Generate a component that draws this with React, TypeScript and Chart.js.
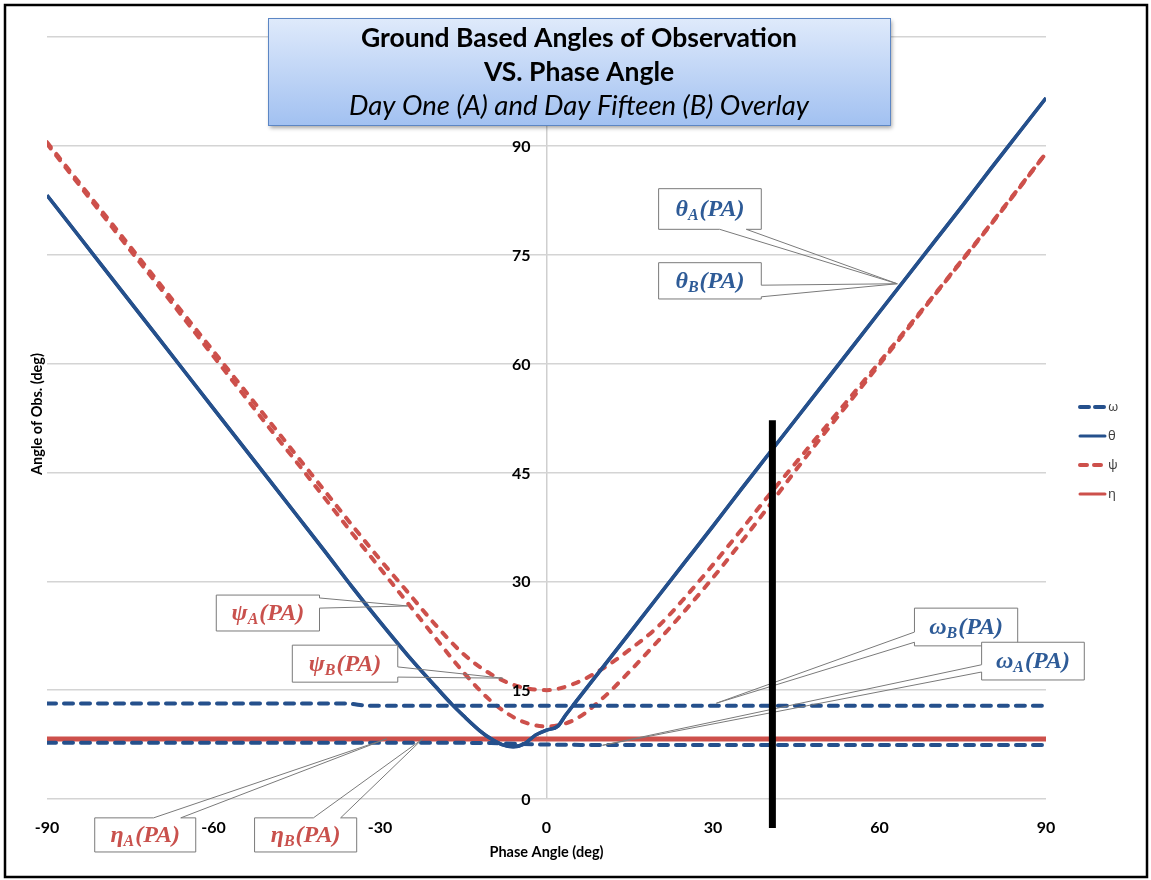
import React, { useEffect, useRef } from "react";
import { Chart, registerables } from "chart.js";

Chart.register(...registerables);

// ---------- data ----------
const thetaX = [-90, -85, -80, -75, -70, -65, -60, -55, -50, -45, -40, -35, -30, -25, -20, -17, -15, -12, -10, -8, -6, -4, -2, 0, 2, 3.5, 5, 10, 15, 20, 25, 30, 35, 40, 45, 50, 55, 60, 65, 70, 75, 80, 85, 90];
const thetaA = [83.2, 78.3, 73.4, 68.5, 63.6, 58.7, 53.8, 48.9, 44.0, 39.1, 34.2, 29.2, 24.4, 19.8, 15.5, 13.0, 11.5, 9.4, 8.3, 7.5, 7.2, 7.6, 8.8, 9.5, 10.0, 11.6, 13.1, 18.0, 22.9, 27.8, 32.7, 37.6, 42.6, 47.5, 52.4, 57.3, 62.2, 67.1, 72.0, 76.9, 81.8, 86.8, 91.7, 96.6];
const thetaB = [83.2, 78.3, 73.4, 68.5, 63.6, 58.7, 53.8, 48.9, 44.0, 39.1, 34.2, 29.2, 24.4, 19.8, 15.5, 13.0, 11.5, 9.4, 8.3, 7.5, 7.2, 7.6, 8.8, 9.5, 10.0, 11.6, 13.1, 18.0, 22.9, 27.8, 32.7, 37.6, 42.6, 47.5, 52.4, 57.3, 62.2, 67.1, 72.0, 76.9, 81.8, 86.8, 91.7, 96.6];

const psiX = [-90, -85, -80, -75, -70, -65, -60, -55, -50, -45, -40, -35, -30, -25, -20, -15, -10, -5, 0, 5, 10, 15, 20, 25, 30, 35, 40, 45, 50, 55, 60, 65, 70, 75, 80, 85, 90];
const psiA = [90.3, 85.4, 80.5, 75.6, 70.8, 65.9, 61.0, 56.1, 51.2, 46.4, 41.5, 36.6, 31.8, 27.0, 22.2, 17.5, 13.5, 10.9, 10.0, 10.9, 13.8, 17.6, 21.7, 26.0, 30.5, 35.3, 40.3, 45.4, 50.3, 55.1, 59.9, 64.7, 69.5, 74.3, 79.1, 84.0, 89.0];
const psiB = [90.5, 85.7, 80.9, 76.1, 71.3, 66.5, 61.7, 56.9, 52.1, 47.3, 42.5, 37.7, 33.0, 28.5, 24.0, 20.0, 17.2, 15.5, 15.0, 15.9, 17.9, 20.6, 23.7, 27.8, 32.3, 37.0, 41.8, 46.4, 51.0, 55.6, 60.2, 64.9, 69.6, 74.4, 79.2, 84.1, 89.0];

const omegaX = [-90, -60, -40, -36, -32, -20, -10, 0, 10, 30, 60, 90];
const omegaA = [7.75, 7.75, 7.75, 7.75, 7.75, 7.75, 7.7, 7.5, 7.45, 7.45, 7.45, 7.45];
const omegaB = [13.15, 13.15, 13.15, 13.15, 12.85, 12.85, 12.85, 12.85, 12.85, 12.85, 12.85, 12.85];

const etaX = [-90, 90];
const etaA = [8.35, 8.35];
const etaB = [8.2, 8.2];

const xTicks = [-90, -60, -30, 0, 30, 60, 90];
const yTicks = [0, 15, 30, 45, 60, 75, 90];

const legendLabels = ["ω", "θ", "ψ", "η"];

const titleLines = ["Ground Based Angles of Observation", "VS. Phase Angle", "Day One (A) and Day Fifteen (B) Overlay"];
const xAxisTitle = "Phase Angle (deg)";
const yAxisTitle = "Angle of Obs. (deg)";

// vertical marker (phase angle, from / to angle)
const markerX = 40.7;
const markerTop = 52.2;
const markerBottom = -4.0;

// callouts: symbol, subscript, colour key, box (data coords), wedge side, wedge base (data), tip (data)
const callouts = [
  { sym: "θ", sub: "A", c: "blue", x1: 20.2, x2: 38.7, yTop: 84.1, yBot: 78.5, side: "bottom", b1: 31.2, b2: 36.0, tx: 63.2, ty: 71.0 },
  { sym: "θ", sub: "B", c: "blue", x1: 20.2, x2: 38.7, yTop: 73.9, yBot: 68.9, side: "right", b1: 70.8, b2: 69.2, tx: 63.2, ty: 71.0 },
  { sym: "ψ", sub: "A", c: "red", x1: -59.5, x2: -40.9, yTop: 28.1, yBot: 23.15, side: "right", b1: 27.7, b2: 26.3, tx: -25.0, ty: 26.6 },
  { sym: "ψ", sub: "B", c: "red", x1: -45.8, x2: -26.8, yTop: 21.2, yBot: 16.1, side: "right", b1: 18.2, b2: 16.8, tx: -7.9, ty: 16.65 },
  { sym: "ω", sub: "B", c: "blue", x1: 66.3, x2: 84.9, yTop: 26.3, yBot: 21.1, side: "left", b1: 23.0, b2: 21.6, tx: 30.6, ty: 13.2 },
  { sym: "ω", sub: "A", c: "blue", x1: 78.4, x2: 96.9, yTop: 21.6, yBot: 16.4, side: "left", b1: 18.5, b2: 17.5, tx: 10.1, ty: 7.4 },
  { sym: "η", sub: "A", c: "red", x1: -81.4, x2: -63.2, yTop: -2.6, yBot: -7.3, side: "top", b1: -70.8, b2: -65.9, tx: -28.8, ty: 8.3 },
  { sym: "η", sub: "B", c: "red", x1: -52.6, x2: -34.2, yTop: -2.6, yBot: -7.3, side: "top", b1: -42.0, b2: -37.1, tx: -22.3, ty: 8.3 },
];

const BLUE = "#25508C";
const RED = "#CD504B";
const FONT = "Lato, 'Open Sans', sans-serif";

const pts = (xs: number[], ys: number[]) => xs.map((x, i) => ({ x, y: ys[i] }));

export default function App() {
  const ref = useRef<HTMLCanvasElement>(null);

  useEffect(() => {
    const canvas = ref.current;
    if (!canvas) return;

    const overlay = {
      id: "overlay",
      afterDatasetsDraw(chart: any) {
        const ctx = chart.ctx as CanvasRenderingContext2D;
        const xs = chart.scales.x;
        const ys = chart.scales.y;
        const px = (v: number) => xs.getPixelForValue(v);
        const py = (v: number) => ys.getPixelForValue(v);
        const x0 = px(0);

        ctx.save();
        // y tick labels next to the x=0 axis
        ctx.font = `bold 16px ${FONT}`;
        ctx.fillStyle = "#000";
        ctx.textAlign = "right";
        ctx.textBaseline = "middle";
        yTicks.forEach((t) => ctx.fillText(String(t), x0 - 16, py(t) + 1));

        // callouts
        callouts.forEach((co) => {
          const X1 = px(co.x1), X2 = px(co.x2), Y1 = py(co.yTop), Y2 = py(co.yBot);
          const TX = px(co.tx), TY = py(co.ty);
          let B1: number, B2: number;
          if (co.side === "top" || co.side === "bottom") { B1 = px(co.b1); B2 = px(co.b2); }
          else { B1 = py(co.b1); B2 = py(co.b2); }
          ctx.fillStyle = "#fff";
          ctx.fillRect(X1, Y1, X2 - X1, Y2 - Y1);
          ctx.beginPath();
          ctx.moveTo(X1, Y1);
          if (co.side === "top") { ctx.lineTo(B1, Y1); ctx.lineTo(TX, TY); ctx.lineTo(B2, Y1); }
          ctx.lineTo(X2, Y1);
          if (co.side === "right") { ctx.lineTo(X2, B1); ctx.lineTo(TX, TY); ctx.lineTo(X2, B2); }
          ctx.lineTo(X2, Y2);
          if (co.side === "bottom") { ctx.lineTo(B2, Y2); ctx.lineTo(TX, TY); ctx.lineTo(B1, Y2); }
          ctx.lineTo(X1, Y2);
          if (co.side === "left") { ctx.lineTo(X1, B2); ctx.lineTo(TX, TY); ctx.lineTo(X1, B1); }
          ctx.closePath();
          ctx.strokeStyle = "#7a7a7a";
          ctx.lineWidth = 1;
          ctx.setLineDash([]);
          ctx.stroke();

          const col = co.c === "blue" ? "#2E5B97" : "#C9514D";
          const fMain = "italic bold 24px 'Liberation Serif', serif";
          const fSub = "italic bold 16px 'Liberation Serif', serif";
          const rest = "(PA)";
          ctx.font = fMain;
          const w1 = ctx.measureText(co.sym).width;
          const w3 = ctx.measureText(rest).width;
          ctx.font = fSub;
          const w2 = ctx.measureText(co.sub).width;
          const total = w1 + w2 + 1 + w3;
          let cx = (X1 + X2) / 2 - total / 2;
          const cy = (Y1 + Y2) / 2;
          ctx.fillStyle = col;
          ctx.textAlign = "left";
          ctx.textBaseline = "alphabetic";
          ctx.font = fMain;
          ctx.fillText(co.sym, cx, cy + 7);
          cx += w1;
          ctx.font = fSub;
          ctx.fillText(co.sub, cx, cy + 11);
          cx += w2 + 1;
          ctx.font = fMain;
          ctx.fillText(rest, cx, cy + 7);
        });

        // black marker line
        ctx.strokeStyle = "#000";
        ctx.lineWidth = 7;
        ctx.setLineDash([]);
        ctx.beginPath();
        ctx.moveTo(px(markerX), py(markerTop));
        ctx.lineTo(px(markerX), py(markerBottom));
        ctx.stroke();

        // title box
        const tb = { x: 268, y: 18, w: 622, h: 107 };
        ctx.save();
        ctx.shadowColor = "rgba(0,0,0,0.35)";
        ctx.shadowOffsetX = 2;
        ctx.shadowOffsetY = 3;
        ctx.shadowBlur = 4;
        const g = ctx.createLinearGradient(0, tb.y, 0, tb.y + tb.h);
        g.addColorStop(0, "#DFEAFB");
        g.addColorStop(1, "#A2C1F1");
        ctx.fillStyle = g;
        ctx.fillRect(tb.x, tb.y, tb.w, tb.h);
        ctx.restore();
        ctx.strokeStyle = "#5C86C4";
        ctx.lineWidth = 1;
        ctx.strokeRect(tb.x + 0.5, tb.y + 0.5, tb.w, tb.h);
        ctx.fillStyle = "#000";
        ctx.textAlign = "center";
        ctx.textBaseline = "middle";
        const tcx = tb.x + tb.w / 2;
        ctx.font = `bold 26.5px ${FONT}`;
        ctx.fillText(titleLines[0], tcx, 38);
        ctx.fillText(titleLines[1], tcx, 72);
        ctx.font = `italic 27.5px ${FONT}`;
        ctx.fillText(titleLines[2], tcx, 106);

        // legend
        const legendStyles = [
          { color: BLUE, dash: [9, 6], w: 4 },
          { color: BLUE, dash: [], w: 3 },
          { color: RED, dash: [7, 7], w: 4 },
          { color: RED, dash: [], w: 3 },
        ];
        legendStyles.forEach((s, i) => {
          const y = 407 + i * 29;
          ctx.strokeStyle = s.color;
          ctx.lineWidth = s.w;
          ctx.lineCap = "round";
          ctx.setLineDash(s.dash);
          ctx.beginPath();
          ctx.moveTo(1080, y);
          ctx.lineTo(1105, y);
          ctx.stroke();
          ctx.setLineDash([]);
          ctx.fillStyle = "#404040";
          ctx.font = `13px 'Noto Sans', sans-serif`;
          ctx.textAlign = "left";
          ctx.textBaseline = "middle";
          ctx.fillText(legendLabels[i], 1108, y);
        });

        // axis titles
        ctx.fillStyle = "#000";
        ctx.font = `bold 14.5px ${FONT}`;
        ctx.textAlign = "center";
        ctx.textBaseline = "middle";
        ctx.fillText(xAxisTitle, x0, 852);
        ctx.save();
        ctx.translate(37, 414);
        ctx.rotate(-Math.PI / 2);
        ctx.fillText(yAxisTitle, 0, 0);
        ctx.restore();

        // frame
        ctx.strokeStyle = "#000";
        ctx.lineWidth = 2.5;
        ctx.strokeRect(5, 5, 1142, 872);
        ctx.restore();
      },
    };

    const chart = new Chart(canvas, {
      type: "line",
      data: {
        datasets: [
          { label: "θA", data: pts(thetaX, thetaA), borderColor: BLUE, borderWidth: 3.5, cubicInterpolationMode: "monotone" },
          { label: "θB", data: pts(thetaX, thetaB), borderColor: BLUE, borderWidth: 3.5, cubicInterpolationMode: "monotone" },
          { label: "ωB", data: pts(omegaX, omegaB), borderColor: BLUE, borderWidth: 4, borderDash: [9, 8], borderCapStyle: "round", cubicInterpolationMode: "monotone" },
          { label: "ωA", data: pts(omegaX, omegaA), borderColor: BLUE, borderWidth: 4, borderDash: [9, 8], borderCapStyle: "round", cubicInterpolationMode: "monotone" },
          { label: "ψA", data: pts(psiX, psiA), borderColor: RED, borderWidth: 4, borderDash: [6, 9], borderCapStyle: "round", cubicInterpolationMode: "monotone" },
          { label: "ψB", data: pts(psiX, psiB), borderColor: RED, borderWidth: 4, borderDash: [6, 9], borderCapStyle: "round", cubicInterpolationMode: "monotone" },
          { label: "ηA", data: pts(etaX, etaA), borderColor: RED, borderWidth: 4, tension: 0 },
          { label: "ηB", data: pts(etaX, etaB), borderColor: RED, borderWidth: 4, tension: 0 },
        ] as any,
      },
      options: {
        animation: false,
        responsive: false,
        events: [],
        elements: { point: { radius: 0 } },
        layout: { padding: { left: 0, top: 37, right: 105, bottom: 0 } },
        plugins: { legend: { display: false }, tooltip: { enabled: false }, title: { display: false } },
        scales: {
          x: {
            type: "linear",
            min: -90,
            max: 90,
            afterBuildTicks: (s: any) => { s.ticks = xTicks.map((v) => ({ value: v })); },
            afterFit: (s: any) => { s.height = 81; },
            border: { display: false },
            grid: {
              drawTicks: false,
              lineWidth: 1.5,
              color: (c: any) => (c.tick && c.tick.value === 0 ? "#CFCFCF" : "rgba(0,0,0,0)"),
            },
            ticks: { color: "#000", font: { family: FONT, size: 16, weight: "bold" }, padding: 19, maxRotation: 0 },
          },
          y: {
            type: "linear",
            min: 0,
            max: 105,
            afterBuildTicks: (s: any) => { s.ticks = [...yTicks, 105].map((v) => ({ value: v })); },
            afterFit: (s: any) => { s.width = 47; },
            border: { display: false },
            grid: { drawTicks: false, lineWidth: 1.5, color: "#D4D4D4" },
            ticks: { display: false },
          },
        },
      } as any,
      plugins: [overlay],
    });

    return () => chart.destroy();
  }, []);

  return (
    <div style={{ position: "fixed", left: 0, top: 0, width: 1151, height: 880, background: "#fff" }}>
      <canvas ref={ref} width={1151} height={880} style={{ display: "block", width: 1151, height: 880 }} />
    </div>
  );
}
